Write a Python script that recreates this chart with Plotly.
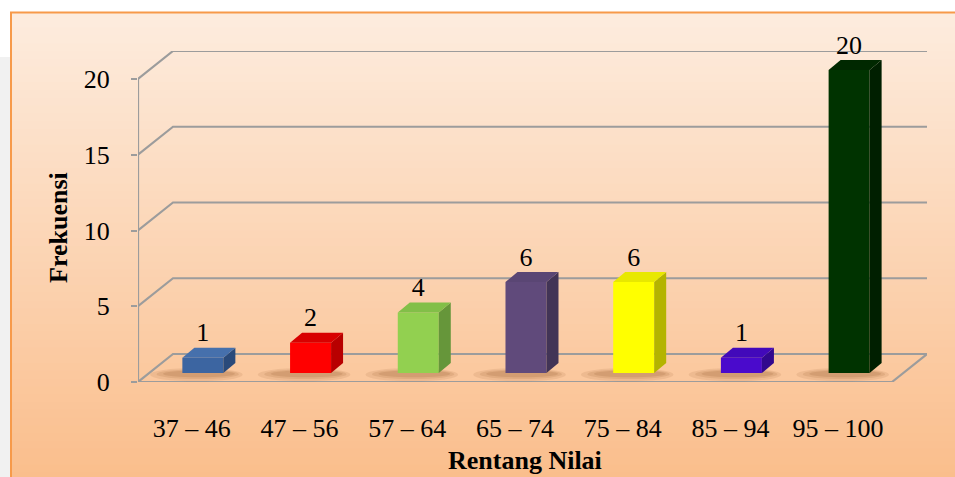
import plotly.graph_objects as go

# ---- data ----
categories = ["37 – 46", "47 – 56", "57 – 64", "65 – 74", "75 – 84", "85 – 94", "95 – 100"]
frekuensi = [1, 2, 4, 6, 6, 1, 20]
y_ticks = [0, 5, 10, 15, 20]

# ---- bar colours (front, side, top) ----
front_colors = ["#3C65A1", "#FF0000", "#92D050", "#604A7B", "#FFFF00", "#4A0ACC", "#003300"]
side_colors = ["#2A4A7A", "#B80000", "#66963A", "#423456", "#B4B400", "#32088E", "#001F00"]
top_colors = ["#4670AC", "#D80000", "#82BF48", "#5A4674", "#E8E800", "#4209BA", "#002800"]

# ---- geometry of the pseudo-3D frame (axis units) ----
W, H = 955, 477
L_PX, R_PX, T_PX, B_PX = 138, 927, 51, 382          # plot area in pixels
UX = 107.71                                          # pixels per category
UY = 15.15                                           # pixels per frequency unit
X0 = -0.5
X_MAX = X0 + (R_PX - L_PX) / UX
Y_MAX = (B_PX - T_PX) / UY
DX, DY = 35 / UX, 28 / UY                            # wall depth offset
SX, SY = 11 / UX, 9 / UY                             # bar offset into the floor
BW = 41 / UX                                         # bar width
BDX, BDY = 12 / UX, 10 / UY                          # bar depth offset
N = len(categories)
X_FRONT_END = X0 + N


def px_x(p):
    return (p - L_PX) / (R_PX - L_PX)


def px_y(p):
    return (B_PX - p) / (B_PX - T_PX)


shapes = []

# page background: white, grey strip on the left, orange gradient panel
shapes.append(dict(type="rect", xref="paper", yref="paper", layer="below",
                   x0=px_x(0), x1=px_x(11), y0=px_y(57), y1=px_y(480),
                   fillcolor="#F1F1F1", line_width=0))
top_rgb = (253, 236, 222)
bot_rgb = (250, 190, 140)
n_bands = 60
y_start, y_end = 12, 480
for k in range(n_bands):
    t = k / (n_bands - 1)
    c = tuple(round(a + (b - a) * t) for a, b in zip(top_rgb, bot_rgb))
    ya = y_start + (y_end - y_start) * k / n_bands
    yb = y_start + (y_end - y_start) * (k + 1) / n_bands + 1
    shapes.append(dict(type="rect", xref="paper", yref="paper", layer="below",
                       x0=px_x(11), x1=px_x(960), y0=px_y(ya), y1=px_y(yb),
                       fillcolor="rgb(%d,%d,%d)" % c, line_width=0))
shapes.append(dict(type="rect", xref="paper", yref="paper", layer="below",
                   x0=px_x(11), x1=px_x(962), y0=px_y(12.5), y1=px_y(490),
                   fillcolor="rgba(0,0,0,0)", line=dict(color="#F79A4A", width=2)))

grid_line = dict(color="#9C9C9C", width=2.2)

# back-wall gridlines with their diagonal returns
for v in y_ticks:
    shapes.append(dict(type="path", xref="x", yref="y", layer="below",
                       path="M %f %f L %f %f L %f %f" % (X0, v, X0 + DX, v + DY, X_MAX, v + DY),
                       line=grid_line))

# floor outline
shapes.append(dict(type="path", xref="x", yref="y", layer="below",
                   path="M %f %f L %f %f L %f %f" % (X0, 0, X_FRONT_END, 0, X_FRONT_END + DX, DY),
                   line=grid_line))
# vertical axis line
shapes.append(dict(type="line", xref="x", yref="y", layer="below",
                   x0=X0, x1=X0, y0=0, y1=y_ticks[-1], line=grid_line))

# soft shadows under the bars
for i in range(N):
    cx = i + SX
    for k, (gx, gy, a) in enumerate([(0.30, 0.55, 0.10), (0.24, 0.40, 0.12), (0.18, 0.28, 0.14)]):
        shapes.append(dict(type="circle", xref="x", yref="y", layer="below",
                           x0=cx - BW / 2 - gx, x1=cx + BW / 2 + gx * 0.6,
                           y0=SY - gy, y1=SY + gy * 0.6,
                           fillcolor="rgba(130,70,25,%.2f)" % a, line_width=0))

fig = go.Figure()

# bar fronts
fig.add_trace(go.Bar(
    x=[i + SX for i in range(N)], y=frekuensi, base=[SY] * N, width=BW,
    marker=dict(color=front_colors, line=dict(width=0)),
    hovertext=categories, showlegend=False,
))

# top and side faces of each bar
for i, v in enumerate(frekuensi):
    xl = i + SX - BW / 2
    xr = i + SX + BW / 2
    yb = SY
    yt = SY + v
    fig.add_trace(go.Scatter(
        x=[xr, xr, xr + BDX, xr + BDX, xr], y=[yb, yt, yt + BDY, yb + BDY, yb],
        mode="lines", fill="toself", fillcolor=side_colors[i], line=dict(width=0),
        hoverinfo="skip", showlegend=False))
    fig.add_trace(go.Scatter(
        x=[xl, xl + BDX, xr + BDX, xr, xl], y=[yt, yt + BDY, yt + BDY, yt, yt],
        mode="lines", fill="toself", fillcolor=top_colors[i], line=dict(width=0),
        hoverinfo="skip", showlegend=False))

# value labels
fig.add_trace(go.Scatter(
    x=[i + SX for i in range(N)], y=[SY + v + BDY for v in frekuensi],
    mode="text", text=[str(v) for v in frekuensi], textposition="top center",
    textfont=dict(family="Liberation Serif", size=26, color="black"),
    cliponaxis=False, hoverinfo="skip", showlegend=False))

font = dict(family="Liberation Serif", size=26, color="black")

fig.update_layout(
    width=W, height=H,
    margin=dict(l=L_PX, r=W - R_PX, t=T_PX, b=H - B_PX, pad=0),
    paper_bgcolor="white", plot_bgcolor="rgba(0,0,0,0)",
    shapes=shapes,
    font=font,
    xaxis=dict(range=[X0, X_MAX], tickvals=list(range(N)), ticktext=categories,
               showgrid=False, zeroline=False, showline=False, ticks="",
               ticklabelstandoff=28, tickfont=font, fixedrange=True),
    yaxis=dict(range=[0, Y_MAX], tickvals=y_ticks, showgrid=False, zeroline=False,
               showline=False, ticks="outside", ticklen=6, tickwidth=2,
               tickcolor="#9C9C9C", ticklabelstandoff=16, tickfont=font, fixedrange=True),
    annotations=[
        dict(text="<b>Frekuensi</b>", xref="paper", yref="paper",
             x=px_x(58), y=px_y(228), textangle=-90, showarrow=False,
             xanchor="center", yanchor="middle", font=font),
        dict(text="<b>Rentang Nilai</b>", xref="paper", yref="paper",
             x=px_x(525), y=px_y(460), showarrow=False,
             xanchor="center", yanchor="middle", font=font),
    ],
)

fig.write_html("out.html")
